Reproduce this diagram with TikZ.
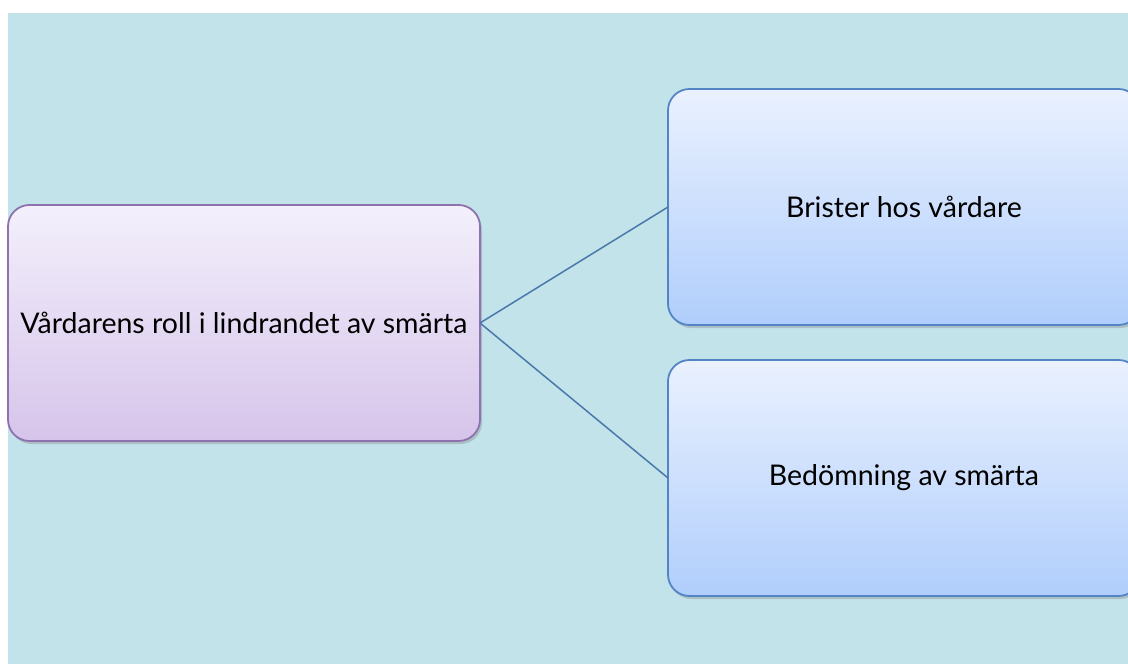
\documentclass[tikz,border=0pt]{standalone}
\usepackage{fontspec}
\setmainfont{Lato}
\usetikzlibrary{calc,positioning,shadows}
\definecolor{bgblue}{RGB}{194,227,234}
\definecolor{lilaedge}{RGB}{142,114,176}
\definecolor{lilatop}{RGB}{243,240,252}
\definecolor{lilabot}{RGB}{214,196,234}
\definecolor{blueedge}{RGB}{84,132,196}
\definecolor{bluetop}{RGB}{234,241,254}
\definecolor{bluebot}{RGB}{176,206,252}
\definecolor{linkblue}{RGB}{74,120,170}
\newdimen\hdim
\newdimen\wdim
\hdim=236pt
\wdim=472pt
\tikzstyle{topic}=[
  font={\fontsize{28.5}{32}\selectfont},
  inner sep=0pt,
  minimum height=\hdim,
  minimum width=\wdim,
  outer sep=0pt,
  rectangle,
  rounded corners=\wdim/22,
  text centered,
  line width=1.8pt,
  drop shadow={shadow xshift=2pt, shadow yshift=-3pt, opacity=.35},
]
\tikzstyle{main}=[
  topic,
  draw=lilaedge,
  top color=lilatop,
  bottom color=lilabot,
]
\tikzstyle{sub}=[
  topic,
  draw=blueedge,
  top color=bluetop,
  bottom color=bluebot,
]
\tikzstyle{link}=[
  draw=linkblue,
  line width=1.5pt,
]

\begin{document}
\begin{tikzpicture}[x=1pt, y=-1pt]
      \useasboundingbox (0,0) rectangle (1128,664);
      \fill [bgblue] (8,13) rectangle (1128,664);
      \node (roll) [main, anchor=north west] at (8,205) {Vårdarens roll i lindrandet av smärta};
      \node (brister) [sub, anchor=north west] at (668,89) {Brister hos vårdare};
      \node (bedomning) [sub, anchor=north west] at (668,360) {Bedömning av smärta};
      \draw [link] (roll.east) -- (brister.west);
      \draw [link] (roll.east) -- (bedomning.west);
    \end{tikzpicture}
\end{document}
